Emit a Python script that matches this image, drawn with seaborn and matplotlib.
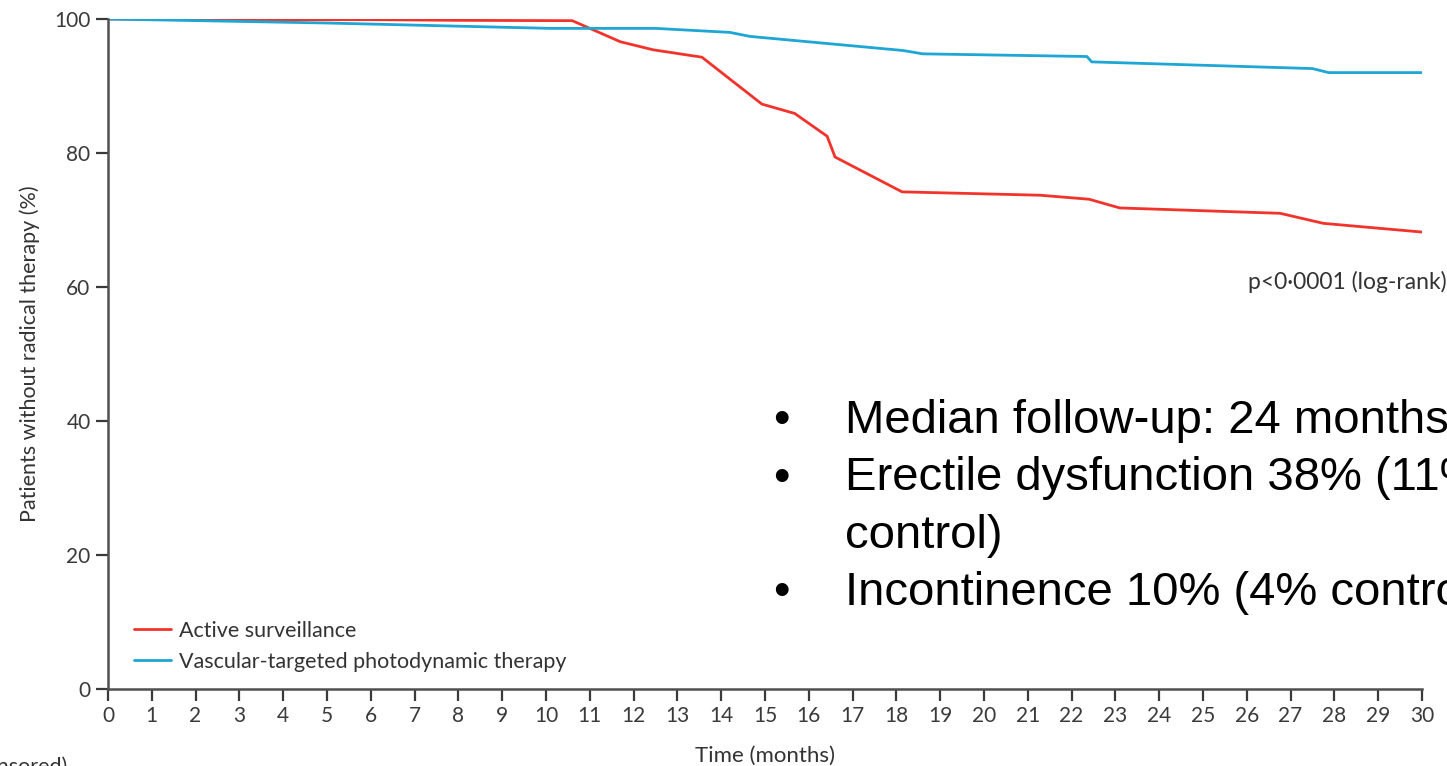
import numpy as np
import pandas as pd
import matplotlib.pyplot as plt
import seaborn as sns

# curve points (months, % without radical therapy)
as_months = [0, 3, 6, 8, 10.6, 11.7, 12.45, 13.56, 14.93, 15.68, 16.42, 16.6, 18.13, 21.28, 22.4, 23.1, 26.76, 27.75, 30.0]
as_pct = [100, 99.9, 99.9, 99.8, 99.75, 96.6, 95.4, 94.3, 87.3, 85.9, 82.5, 79.4, 74.2, 73.7, 73.1, 71.8, 71.0, 69.5, 68.2]

vtp_months = [0, 5, 10.1, 12.5, 14.2, 14.66, 18.15, 18.6, 22.35, 22.46, 27.5, 27.87, 30.0]
vtp_pct = [100, 99.4, 98.6, 98.6, 98.0, 97.4, 95.3, 94.8, 94.4, 93.6, 92.6, 92.0, 92.0]

groups = ['Active surveillance', 'Vascular-targeted photodynamic therapy']
colors = ['#f2332b', '#1ea6d4']

x_ticks = list(range(0, 31))
y_ticks = [0, 20, 40, 60, 80, 100]

bullets = ['Median follow-up: 24 months',
           'Erectile dysfunction 38% (11%',
           'control)',
           'Incontinence 10% (4% control)']

df = pd.concat([
    pd.DataFrame({'month': as_months, 'pct': as_pct, 'group': groups[0]}),
    pd.DataFrame({'month': vtp_months, 'pct': vtp_pct, 'group': groups[1]}),
])

sns.set_style('ticks')
plt.rcParams['font.family'] = ['Lato', 'DejaVu Sans']

fig = plt.figure(figsize=(14.47, 7.66), dpi=100)
ax = fig.add_axes([0.0746, 0.1005, 0.9081, 0.8747])

sns.lineplot(data=df, x='month', y='pct', hue='group', palette=colors,
             linewidth=2, estimator=None, sort=False, ax=ax)

ax.set_xlim(0, 30)
ax.set_ylim(0, 100)
ax.set_xticks(x_ticks)
ax.set_yticks(y_ticks)
ax.tick_params(labelsize=15, colors='#3a3a3a', length=8.5, width=1.6, pad=4)
for s in ['top', 'right']:
    ax.spines[s].set_visible(False)
for s in ['left', 'bottom']:
    ax.spines[s].set_color('#505050')
    ax.spines[s].set_linewidth(1.8)
ax.set_xlabel('Time (months)', fontsize=16, color='#333333', labelpad=14)
ax.set_ylabel('Patients without radical therapy (%)', fontsize=15.5, color='#333333', labelpad=10)

leg = ax.legend(loc='center left', bbox_to_anchor=(0.0114, 0.064), frameon=False,
                borderpad=0, fontsize=15.5, handlelength=1.72, handletextpad=0.37,
                labelspacing=0.5)
for t in leg.get_texts():
    t.set_color('#333333')

fig.text(1248 / 1447, 1 - 282 / 766, 'p<0\u00b70001 (log-rank)', ha='left', va='center',
         fontsize=16.5, color='#333333')

bfont = ['Liberation Sans', 'DejaVu Sans']
baselines = [433, 490.5, 548, 605]
for txt, yy in zip(bullets, baselines):
    yf = 1 - yy / 766
    if txt != 'control)':
        fig.text(781 / 1447, yf, '\u2022', ha='center', va='baseline', fontsize=34,
                 color='black', family=bfont)
    fig.text(845 / 1447, yf, txt, ha='left', va='baseline', fontsize=34,
             color='black', family=bfont)

fig.text(67 / 1447, 1 - 757 / 766, '(number censored)', ha='right', va='top',
         fontsize=15.5, color='#333333')

fig.savefig('out.png', dpi=100)
